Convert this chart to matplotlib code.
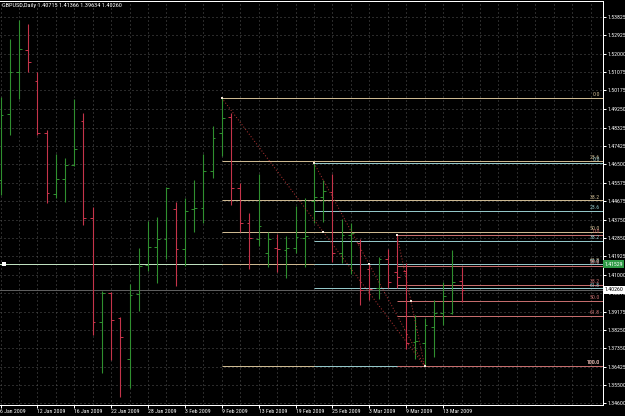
import matplotlib
matplotlib.use("Agg")
import matplotlib.pyplot as plt
from matplotlib.transforms import blended_transform_factory

# ---------------- data ----------------
TITLE = "GBPUSD,Daily 1.40715 1.41366 1.39634 1.40260"

opens = [1.45717, 1.49000, 1.51089, 1.52184, 1.50641, 1.48055, 1.45021, 1.45767, 1.46463, 1.48652,
         1.43827, 1.38654, 1.40096, 1.38853, 1.36813, 1.40047, 1.41489, 1.42384, 1.42782, 1.44275,
         1.42285, 1.44275, 1.44324, 1.46165, 1.48055, 1.48851, 1.45319, 1.43578, 1.42782, 1.42086,
         1.42335, 1.42235, 1.42335, 1.42832, 1.44673, 1.44872, 1.45120, 1.42086, 1.42981, 1.42583,
         1.41290, 1.40345, 1.41788, 1.41141, 1.41191, 1.37640, 1.37609, 1.38405, 1.39102, 1.39102,
         1.40715]
highs = [1.49846, 1.52731, 1.53676, 1.53477, 1.51089, 1.48204, 1.47010, 1.46811, 1.49746, 1.49050,
         1.44375, 1.40196, 1.40150, 1.38900, 1.40544, 1.42335, 1.43678, 1.43877, 1.45369, 1.44622,
         1.44822, 1.45717, 1.47010, 1.48403, 1.49796, 1.49050, 1.45568, 1.44076, 1.46016, 1.43131,
         1.43031, 1.42932, 1.44424, 1.44822, 1.46563, 1.45717, 1.46016, 1.43777, 1.43578, 1.42782,
         1.41589, 1.41887, 1.42285, 1.42981, 1.41589, 1.39002, 1.38853, 1.39748, 1.40644, 1.42235,
         1.41366]
lows = [1.44971, 1.47956, 1.49746, 1.51089, 1.47956, 1.44573, 1.44822, 1.44622, 1.46413, 1.43479,
        1.38007, 1.36117, 1.36764, 1.34923, 1.35371, 1.39201, 1.41191, 1.40594, 1.41788, 1.40445,
        1.41439, 1.43131, 1.43578, 1.45817, 1.46911, 1.44474, 1.43131, 1.41290, 1.42434, 1.41390,
        1.41141, 1.40842, 1.42086, 1.41390, 1.43578, 1.43628, 1.41638, 1.41589, 1.41041, 1.39500,
        1.39748, 1.39798, 1.40345, 1.40345, 1.37311, 1.36813, 1.36465, 1.36913, 1.38505, 1.39052,
        1.39634]
closes = [1.48950, 1.51089, 1.52233, 1.51586, 1.48055, 1.45071, 1.45767, 1.46463, 1.47259, 1.43827,
          1.38654, 1.40096, 1.38753, 1.37908, 1.39997, 1.41439, 1.42384, 1.42782, 1.45319, 1.42285,
          1.44175, 1.44324, 1.46165, 1.47806, 1.48801, 1.45319, 1.43578, 1.42832, 1.43429, 1.42782,
          1.42285, 1.42335, 1.42882, 1.42932, 1.44872, 1.45170, 1.42086, 1.42981, 1.43080, 1.40246,
          1.40296, 1.41788, 1.40644, 1.40892, 1.37609, 1.37700, 1.38505, 1.39102, 1.39947, 1.40644,
          1.40260]

date_labels = ["6 Jan 2009", "12 Jan 2009", "16 Jan 2009", "22 Jan 2009", "28 Jan 2009",
               "3 Feb 2009", "9 Feb 2009", "13 Feb 2009", "19 Feb 2009", "25 Feb 2009",
               "3 Mar 2009", "9 Mar 2009", "13 Mar 2009"]
date_label_bars = [0, 4, 8, 12, 16, 20, 24, 28, 32, 36, 40, 44, 48]

price_ticks = [1.53825, 1.52925, 1.52000, 1.51075, 1.50175, 1.49250, 1.48325, 1.47425, 1.46500,
               1.45575, 1.44675, 1.43750, 1.42850, 1.41925, 1.41000, 1.40075, 1.39175, 1.38250,
               1.37350, 1.36425, 1.35500, 1.34600]

fib_levels = [0.0, 23.6, 38.2, 50.0, 61.8, 100.0]
fib_level_names = ["0.0", "23.6", "38.2", "50.0", "61.8", "100.0"]
# (start bar, start price, end bar, end price)
fib_a = (24, 1.49796, 46, 1.36465)
fib_b = (34, 1.46563, 46, 1.36465)
fib_c = (43, 1.42981, 46, 1.36465)

hline_price = 1.41529
bid_price = 1.40260

# ---------------- style ----------------
W, H = 625, 416
PX = 72.0 / 100.0  # one pixel in points
BAR_PX = 9.22
X0 = -0.5 / BAR_PX
X1 = 602.5 / BAR_PX
YMIN, YMAX = 1.34525, 1.54621

FONT = ["Roboto Condensed", "PT Sans Narrow", "Archivo Narrow", "Liberation Sans Narrow",
        "Liberation Sans", "DejaVu Sans"]
plt.rcParams["font.family"] = FONT

GREEN = "#2f8f2f"
RED = "#c5344a"
GRID = "#555555"
FIB_COLORS = ["#cdb991", "#93c6c8", "#c46c6c"]

fig = plt.figure(figsize=(W / 100, H / 100), dpi=100, facecolor="black")
renderer = fig.canvas.get_renderer()


def fit_size(s, target_px, base=10.0):
    t = fig.text(0, 0, s, fontsize=base)
    w = t.get_window_extent(renderer).width
    t.remove()
    return base * target_px / w


FS_X = fit_size("12 Jan 2009", 28)
FS_Y = fit_size("1.53825", 18.5)
FS_T = fit_size(TITLE, 121)
FS_F = FS_Y

ax = fig.add_axes([0, 11 / H, 603 / W, 404 / H], facecolor="black")
ax.set_xlim(X0, X1)
ax.set_ylim(YMIN, YMAX)

# grid
for gx in range(0, 66, 2):
    ax.axvline(gx, color=GRID, lw=PX, ls=(0, (1, 3)), zorder=0)
for gy in price_ticks:
    ax.axhline(gy, color=GRID, lw=PX, ls=(0, (1, 3)), zorder=0)

# bid line and horizontal line object
ax.axhline(bid_price, color="#5e5e5e", lw=PX, zorder=1)
ax.axhline(hline_price, color="#bfe0bf", lw=PX, zorder=1)
ax.plot([3.5 / BAR_PX], [hline_price], marker="s", ms=2.2, color="white", mew=0, zorder=6,
        clip_on=False)

# bars
tick = 0.3
for i, (o, h, l, c) in enumerate(zip(opens, highs, lows, closes)):
    col = GREEN if c >= o else RED
    ax.plot([i, i], [l, h], color=col, lw=PX * 1.1, zorder=3, solid_capstyle="butt")
    ax.plot([i - tick, i], [o, o], color=col, lw=PX, zorder=3, solid_capstyle="butt")
    ax.plot([i, i + tick], [c, c], color=col, lw=PX, zorder=3, solid_capstyle="butt")

# fibonacci retracements
xl = (600 - 0.5) / BAR_PX
for fib, fcol in zip([fib_a, fib_b, fib_c], FIB_COLORS):
    b0, p0, b1, p1 = fib
    ax.plot([b0, b1], [p0, p1], color="#b03232", lw=PX, ls=(0, (1, 2)), zorder=4)
    for lev, name in zip(fib_levels, fib_level_names):
        p = p0 + (p1 - p0) * lev / 100.0
        ax.plot([b0, X1], [p, p], color=fcol, lw=PX, zorder=2, solid_capstyle="butt")
        ax.text(xl, p + 0.0004, name, color=fcol, fontsize=FS_F, ha="right", va="bottom",
                zorder=5)
    for (bx, by) in [(b0, p0), ((b0 + b1) / 2, (p0 + p1) / 2), (b1, p1)]:
        ax.plot([bx], [by], marker="s", ms=1.8, mew=0, color="#f4e6da", zorder=6)

# axes frame
ax.spines["left"].set_visible(False)
for s in ["top", "right", "bottom"]:
    ax.spines[s].set_color("white")
    ax.spines[s].set_linewidth(PX)

ax.yaxis.tick_right()
ax.set_yticks(price_ticks)
ax.set_yticklabels([f"{p:.5f}" for p in price_ticks])
ax.tick_params(axis="y", colors="white", labelsize=FS_Y, length=2.2, width=PX, pad=1.0,
               labelcolor="white")

ax.set_xticks(date_label_bars)
ax.set_xticklabels(date_labels)
for lbl in ax.get_xticklabels():
    lbl.set_horizontalalignment("left")
ax.tick_params(axis="x", colors="white", labelsize=FS_X, length=2.0, width=PX, pad=1.2,
               labelcolor="white")

# price boxes on the scale
tr = blended_transform_factory(ax.transAxes, ax.transData)
ax.text(1.0 + 1.5 / 603, hline_price, "1.41529", transform=tr, fontsize=FS_Y, color="white",
        ha="left", va="center", clip_on=False, zorder=10,
        bbox=dict(boxstyle="square,pad=0.25", fc="#2f9a46", ec="#2f9a46", lw=0))
ax.text(1.0 + 1.5 / 603, bid_price, "1.40260", transform=tr, fontsize=FS_Y, color="black",
        ha="left", va="center", clip_on=False, zorder=10,
        bbox=dict(boxstyle="square,pad=0.25", fc="white", ec="white", lw=0))

fig.text(2 / W, 1 - 5.5 / H, TITLE, color="white", fontsize=FS_T, ha="left", va="center")

fig.savefig("out.png", dpi=100, facecolor="black")
